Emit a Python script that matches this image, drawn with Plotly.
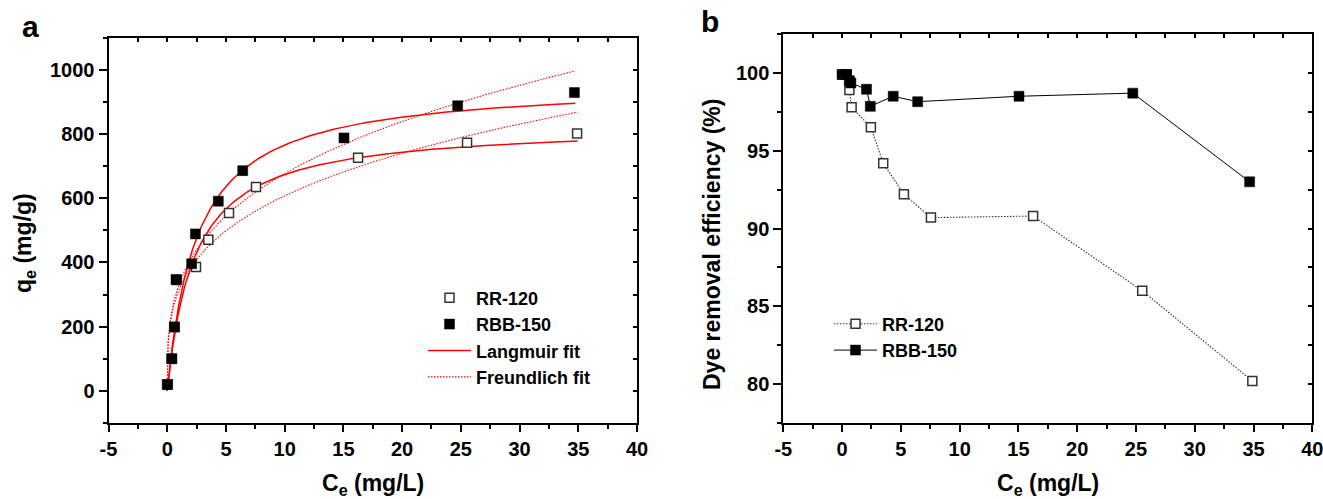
import numpy as np
import plotly.graph_objects as go

# ---------------- data ----------------
# Equilibrium concentration Ce (mg/L)
ce_rr = [0.05, 0.40, 0.62, 0.81, 2.45, 3.50, 5.26, 7.56, 16.25, 25.53, 34.90]
ce_rbb = [0.00, 0.38, 0.61, 0.75, 2.08, 2.40, 4.35, 6.43, 15.05, 24.73, 34.67]
# Panel a: uptake qe (mg/g)
qe_rr = [20, 100, 199, 345, 386, 471, 554, 635, 726, 773, 802]
qe_rbb = [20, 100, 199, 347, 396, 489, 591, 686, 788, 888, 929]
# Panel b: dye removal efficiency (%)
eff_rr = [99.9, 99.9, 98.9, 97.8, 96.5, 94.2, 92.2, 90.7, 90.8, 86.0, 80.2]
eff_rbb = [99.9, 99.9, 99.5, 99.35, 98.95, 97.85, 98.5, 98.15, 98.5, 98.7, 93.0]

# Isotherm fit parameters estimated from the drawn curves
langmuir_rr = (829.7, 0.432)    # qm, KL
langmuir_rbb = (961.8, 0.391)
freundlich_rr = (315.3, 0.285)  # KF, 1/n
freundlich_rbb = (330.6, 0.311)
fit_xmax_rr = 34.95
fit_xmax_rbb = 34.75

# tick labels
x_ticks = [-5, 0, 5, 10, 15, 20, 25, 30, 35, 40]
qe_ticks = [0, 200, 400, 600, 800, 1000]
eff_ticks = [80, 85, 90, 95, 100]

# ---------------- helpers ----------------
FONT = "Liberation Sans, Arial, sans-serif"
W, H = 1323, 499


def px(x):
    return x / W


def py(y):
    return 1 - y / H


def fit_x(xmax):
    return np.concatenate([np.linspace(0, 1, 120), np.linspace(1, xmax, 240)[1:]])


def langmuir(x, p):
    qm, k = p
    return qm * k * x / (1 + k * x)


def freundlich(x, p):
    kf, inv_n = p
    return kf * np.power(x, inv_n)


fig = go.Figure()

open_marker = dict(symbol="square", size=9, color="white", line=dict(color="#333333", width=1.5))
fill_marker = dict(symbol="square", size=10, color="black", line=dict(color="black", width=0.5))
red = "#ff0000"
fine_dot = "1.5px,1.5px"

# ---------------- panel a ----------------
xr = fit_x(fit_xmax_rr)
xb = fit_x(fit_xmax_rbb)
fig.add_trace(go.Scatter(x=xb, y=langmuir(xb, langmuir_rbb), mode="lines",
                         line=dict(color=red, width=1.5), name="Langmuir fit",
                         legend="legend", legendrank=3, xaxis="x", yaxis="y"))
fig.add_trace(go.Scatter(x=xr, y=langmuir(xr, langmuir_rr), mode="lines",
                         line=dict(color=red, width=1.5), showlegend=False,
                         xaxis="x", yaxis="y"))
fig.add_trace(go.Scatter(x=xb, y=freundlich(xb, freundlich_rbb), mode="lines",
                         line=dict(color=red, width=1.1, dash=fine_dot), name="Freundlich fit",
                         legend="legend", legendrank=4, xaxis="x", yaxis="y"))
fig.add_trace(go.Scatter(x=xr, y=freundlich(xr, freundlich_rr), mode="lines",
                         line=dict(color=red, width=1.1, dash=fine_dot), showlegend=False,
                         xaxis="x", yaxis="y"))
fig.add_trace(go.Scatter(x=ce_rr, y=qe_rr, mode="markers", marker=open_marker,
                         name="RR-120", legend="legend", legendrank=1,
                         xaxis="x", yaxis="y"))
fig.add_trace(go.Scatter(x=ce_rbb, y=qe_rbb, mode="markers", marker=fill_marker,
                         name="RBB-150", legend="legend", legendrank=2,
                         xaxis="x", yaxis="y"))

# ---------------- panel b ----------------
fig.add_trace(go.Scatter(x=ce_rr, y=eff_rr, mode="lines+markers", marker=open_marker,
                         line=dict(color="#333333", width=1.1, dash=fine_dot),
                         name="RR-120", legend="legend2", legendrank=1,
                         xaxis="x2", yaxis="y2"))
fig.add_trace(go.Scatter(x=ce_rbb, y=eff_rbb, mode="lines+markers", marker=fill_marker,
                         line=dict(color="black", width=1),
                         name="RBB-150", legend="legend2", legendrank=2,
                         xaxis="x2", yaxis="y2"))

# invisible traces to host the inside-tick overlay axes
fig.add_trace(go.Scatter(x=[None], y=[None], showlegend=False, xaxis="x3", yaxis="y3", hoverinfo="skip"))
fig.add_trace(go.Scatter(x=[None], y=[None], showlegend=False, xaxis="x4", yaxis="y4", hoverinfo="skip"))

tickfont = dict(family=FONT, size=20, color="black", weight="bold")


def main_axis(rng, ticks, minor_dtick, domain, anchor, ticklen=7):
    return dict(range=rng, domain=domain, anchor=anchor, tickmode="array",
                tickvals=ticks, ticktext=["<b>%g</b>" % v for v in ticks],
                showline=True, linecolor="black",
                linewidth=2, mirror=True, ticks="outside", ticklen=ticklen,
                tickwidth=1.5, tickcolor="black", showgrid=False, zeroline=False,
                tickfont=tickfont, ticklabeloverflow="allow",
                minor=dict(ticks="outside", ticklen=4, tickwidth=1.5,
                           tickcolor="black", tickmode="linear",
                           dtick=minor_dtick, tick0=ticks[0], showgrid=False))


def inside_axis(rng, dtick, tick0, side, overlaying, anchor):
    return dict(range=rng, overlaying=overlaying, anchor=anchor, side=side,
                tickmode="linear", tick0=tick0, dtick=dtick, ticks="inside",
                ticklen=4, tickwidth=1.5, tickcolor="black", showticklabels=False,
                showline=False, showgrid=False, zeroline=False)


dom_xa = [px(108.5), px(637)]
dom_xb = [px(783.3), px(1312.3)]
dom_ya = [py(423), py(37.7)]
dom_yb = [py(423), py(34)]

legend_font = dict(family=FONT, size=18, color="black", weight="bold")

fig.update_layout(
    width=W, height=H,
    margin=dict(l=0, r=0, t=0, b=0, autoexpand=False),
    paper_bgcolor="white", plot_bgcolor="white",
    xaxis=main_axis([-5, 40], x_ticks, 2.5, dom_xa, "y"),
    yaxis=main_axis([-100, 1100], qe_ticks, 100, dom_ya, "x", ticklen=8),
    xaxis2=main_axis([-5, 40], x_ticks, 2.5, dom_xb, "y2"),
    yaxis2=main_axis([77.5, 102.5], eff_ticks, 2.5, dom_yb, "x2", ticklen=8),
    xaxis3=inside_axis([-5, 40], 2.5, -5, "top", "x", "y"),
    yaxis3=inside_axis([-100, 1100], 100, 0, "right", "y", "x"),
    xaxis4=inside_axis([-5, 40], 2.5, -5, "top", "x2", "y2"),
    yaxis4=inside_axis([77.5, 102.5], 2.5, 80, "right", "y2", "x2"),
    showlegend=True,
    legend=dict(x=px(423), y=py(279.5), xanchor="left", yanchor="top",
                bgcolor="rgba(0,0,0,0)", borderwidth=0, font=legend_font,
                traceorder="normal", itemwidth=43),
    legend2=dict(x=px(829), y=py(305.5), xanchor="left", yanchor="top",
                 bgcolor="rgba(0,0,0,0)", borderwidth=0, font=legend_font,
                 traceorder="normal", itemwidth=43),
)

title_font = dict(family=FONT, size=23, color="black", weight="bold")
annotations = [
    dict(text="<b>a</b>", x=px(30), y=py(26), font=dict(family=FONT, size=30, color="black", weight="bold")),
    dict(text="<b>b</b>", x=px(710), y=py(21), font=dict(family=FONT, size=30, color="black", weight="bold")),
    dict(text="<b>C<sub>e</sub> (mg/L)</b>", x=px(372.8), y=py(484), font=title_font),
    dict(text="<b>C<sub>e</sub> (mg/L)</b>", x=px(1047.5), y=py(484), font=title_font),
    dict(text="<b>q<sub>e</sub> (mg/g)</b>", x=px(25), y=py(243), textangle=-90, font=title_font),
    dict(text="<b>Dye removal efficiency (%)</b>", x=px(712), y=py(245), textangle=-90, font=title_font),
]
for a in annotations:
    a.update(xref="paper", yref="paper", xanchor="center", yanchor="middle", showarrow=False)
fig.update_layout(annotations=annotations)

fig.write_html("out.html")
